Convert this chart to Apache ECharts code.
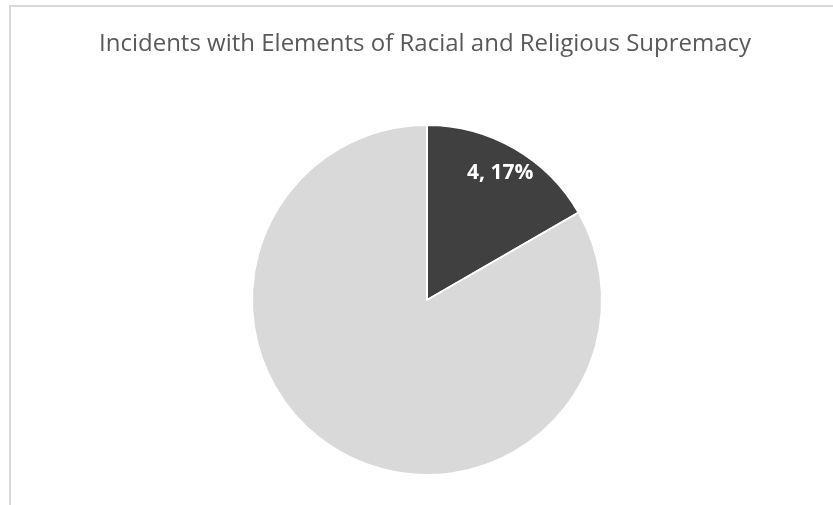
<!DOCTYPE html>
<html>
<head>
<meta charset="utf-8">
<title>Incidents with Elements of Racial and Religious Supremacy</title>
<script src="https://cdn.jsdelivr.net/npm/echarts@6/dist/echarts.min.js"></script>
</head>
<body style="margin:0;background:#fff;">
<div id="frame" style="position:absolute;left:9px;top:5px;width:824px;height:500px;border-left:2px solid #d9d9d9;border-top:2px solid #d9d9d9;"></div>
<div id="container" style="position:absolute;left:0;top:0;width:833px;height:505px;"></div>
<script type="text/javascript">
// slices, clockwise from 12 o'clock
var categories = ['With supremacy elements', 'Without supremacy elements'];
var values = [4, 20];
var sliceColors = ['#404040', '#d9d9d9'];
var showLabel = [true, false];

var mainData = [];
var labelData = [];
for (var i = 0; i < values.length; i++) {
    mainData.push({ name: categories[i], value: values[i], itemStyle: { color: sliceColors[i] } });
    labelData.push({ name: categories[i], value: values[i], label: { show: showLabel[i] } });
}

var myChart = echarts.init(document.getElementById('container'), null, { renderer: 'canvas' });
var option = {
    backgroundColor: 'transparent',
    animation: false,
    title: {
        text: 'Incidents with Elements of Racial and Religious Supremacy',
        left: 94,
        top: 27,
        textStyle: {
            fontFamily: 'Open Sans',
            fontSize: 24,
            fontWeight: 'normal',
            color: '#595959'
        }
    },
    series: [
        {
            type: 'pie',
            center: [427, 300],
            radius: [0, 175],
            startAngle: 90,
            clockwise: true,
            silent: true,
            label: { show: false },
            labelLine: { show: false },
            itemStyle: { borderColor: '#ffffff', borderWidth: 2 },
            data: mainData
        },
        {
            // label ring only, puts the value label near the rim
            type: 'pie',
            center: [427, 300],
            radius: [112, 175],
            startAngle: 90,
            clockwise: true,
            silent: true,
            percentPrecision: 0,
            itemStyle: { color: 'rgba(0,0,0,0)' },
            labelLine: { show: false },
            label: {
                show: true,
                position: 'inside',
                formatter: '{c}, {d}%',
                color: '#ffffff',
                fontFamily: 'Open Sans',
                fontWeight: 'bold',
                fontSize: 21
            },
            data: labelData
        }
    ]
};
myChart.setOption(option);
</script>
</body>
</html>
